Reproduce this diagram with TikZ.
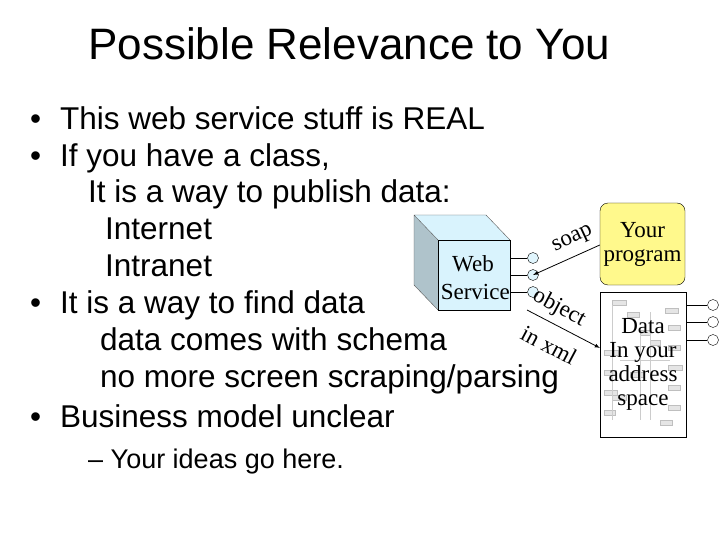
\documentclass[tikz,border=0pt]{standalone}
\usepackage{fontspec}
\setmainfont{Liberation Sans}
\newfontfamily\serf{Liberation Serif}
\begin{document}
\begin{tikzpicture}[x=1pt,y=-1pt,
  t/.style={anchor=base west,inner sep=0,font=\fontsize{31.5}{33}\selectfont},
  s/.style={inner sep=0,font=\serf\fontsize{23}{24}\selectfont},
  port/.style={circle,draw,fill=cyan!12,minimum size=11pt,inner sep=0},
  arr/.style={draw,thick,-latex},
  tex/.style={draw=gray!50,fill=gray!20,line width=0.3pt}]
\useasboundingbox (0,0) rectangle (720,540);
\node[anchor=base west,inner sep=0,font=\fontsize{44}{46}\selectfont] (title) at (88,60) {Possible Relevance to You};
\node[t] (b1) at (30,130) {\textbullet};
\node[t] (l1) at (60,130) {This web service stuff is REAL};
\node[t] (b2) at (30,167) {\textbullet};
\node[t] (l2) at (60,167) {If you have a class,};
\node[t] (l3) at (88,203) {It is a way to publish data:};
\node[t] (l4) at (105,240) {Internet};
\node[t] (l5) at (105,276) {Intranet};
\node[t] (b3) at (30,313) {\textbullet};
\node[t] (l6) at (60,313) {It is a way to find data};
\node[t] (l7) at (100,350) {data comes with schema};
\node[t] (l8) at (100,387) {no more screen scraping/parsing};
\node[t] (b4) at (30,427) {\textbullet};
\node[t] (l9) at (60,427) {Business model unclear};
\node[t,font=\fontsize{27}{29}\selectfont] (l10) at (88,468) {-- Your ideas go here.};
% cube
\fill[cyan!25!gray!60] (414,215) -- (438,240) -- (438,310) -- (414,285) -- cycle;
\fill[cyan!15] (414,215) -- (486,215) -- (510,240) -- (438,240) -- cycle;
\draw[gray!70!black] (414,215) -- (486,215) -- (510,240) (414,215) -- (414,285) -- (438,310) (414,215) -- (438,240);
\node[draw,fill=cyan!15,minimum width=72pt,minimum height=70pt,anchor=north west,inner sep=0] (ws) at (438,240) {};
\node[s,anchor=base east] (wst) at (494,271) {Web};
\node[s,anchor=base east] (wst2) at (510,299) {Service};
\node[port] (p1) at (533,258) {};
\node[port] (p2) at (533,275) {};
\node[port] (p3) at (533,292) {};
\foreach \i/\y in {1/258,2/275,3/292} \draw (510,\y) -- (p\i);
% your program
\node[draw,fill=yellow!45,rounded corners=8pt,minimum width=85pt,minimum height=82pt,s,align=center] (yp) at (642.5,244) {Your\\program};
\draw[arr] (yp.west |- 0,245) coordinate (ys) -- (p2.center);
\node[s,rotate=25] (soap) at (573,240) {soap};
% data box
\node[draw,fill=white,minimum width=86pt,minimum height=145pt,anchor=north west,inner sep=0] (db) at (600,292) {};
\foreach \xx/\yy/\w in {612/300/14,627/312/12,640/330/10,665/308/13,604/350/14,604/370/12,604/390/13,604/410/11,668/325/12,668/345/12,668/365/14,668/385/12,668/405/12,630/372/14,612/395/14,650/340/10,660/420/12}
  \draw[tex] (\xx,\yy) rectangle ++(\w,5);
\draw[gray!40] (612,305)--(612,420) (640,335)--(640,420) (620,360)--(670,360) (650,312)--(650,420);
\node[s,align=center] (dt) at (643,364) {Data\\In your\\address\\space};
\node[port,fill=white] (q1) at (713,305) {};
\node[port,fill=white] (q2) at (713,322) {};
\node[port,fill=white] (q3) at (713,340) {};
\foreach \i/\y in {1/305,2/322,3/340} \draw (686,\y) -- (q\i);
\coordinate (os) at (527,310);
\draw[arr] (os) -- (db.west |- 0,348);
\node[s,rotate=-28] (obj) at (559,308) {object};
\node[s,rotate=-28] (xml) at (549,345) {in xml};
\end{tikzpicture}
\end{document}
